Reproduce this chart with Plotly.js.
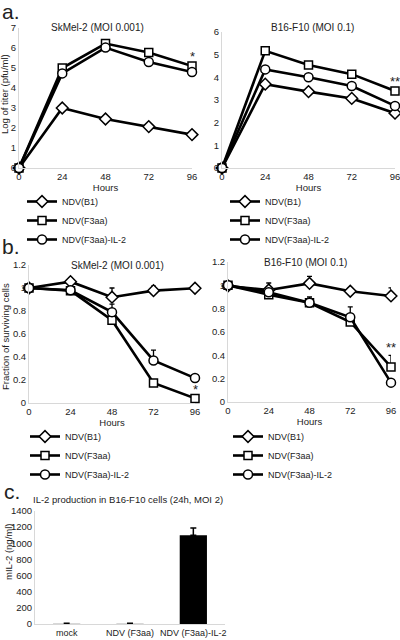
<!DOCTYPE html>
<html>
<head>
<meta charset="utf-8">
<script src="https://cdn.plot.ly/plotly-3.0.1.min.js"></script>
<style>html,body{margin:0;padding:0;background:#fff;}#chart{width:400px;height:640px;}</style>
</head>
<body>
<div id="chart"></div>
<script>
// ---- data ----
const hours = [0, 24, 48, 72, 96];
const seriesNames = ["NDV(B1)", "NDV(F3aa)", "NDV(F3aa)-IL-2"];

// a. virus titer (log pfu/ml)
const aSkB1   = [0, 3.00, 2.45, 2.07, 1.67];
const aSkF3aa = [0, 5.00, 6.22, 5.77, 5.10];
const aSkIL2  = [0, 4.73, 6.02, 5.30, 4.80];
const aB16B1   = [0, 3.70, 3.37, 3.07, 2.42];
const aB16F3aa = [0, 5.17, 4.54, 4.14, 3.40];
const aB16IL2  = [0, 4.35, 4.00, 3.62, 2.74];

// b. fraction of surviving cells (+ upper error)
const bSkB1   = [1.00, 1.055, 0.92, 0.977, 0.998];
const bSkB1Err = [0, 0.035, 0.08, 0.04, 0];
const bSkF3aa = [1.00, 0.977, 0.72, 0.174, 0.04];
const bSkF3aaErr = [0, 0, 0, 0, 0];
const bSkIL2  = [1.00, 0.98, 0.79, 0.37, 0.217];
const bSkIL2Err = [0, 0, 0.07, 0.09, 0];
const bB16B1   = [0.995, 0.96, 1.017, 0.949, 0.909];
const bB16B1Err = [0, 0.06, 0.06, 0.03, 0.07];
const bB16F3aa = [1.00, 0.92, 0.85, 0.686, 0.30];
const bB16F3aaErr = [0, 0, 0, 0, 0.10];
const bB16IL2  = [1.00, 0.94, 0.85, 0.726, 0.166];
const bB16IL2Err = [0, 0, 0.05, 0.09, 0];

// c. IL-2 production
const cCategories = ["mock", "NDV (F3aa)", "NDV (F3aa)-IL-2"];
const cValues = [2, 2, 1100];
const cErr = [6, 6, 90];

// ---- styling helpers ----
const FONT = "Liberation Sans, Arial, Helvetica, sans-serif";
const TXT = "#222";
const AXC = "#d8d8d8";
const symbols = ["diamond", "square", "circle"];
const sizes = [9, 8, 9];
const zeros = [0, 0, 0, 0, 0];

function lineTrace(y, idx, xa, ya, legend, err) {
  const t = {
    type: "scatter", mode: "lines+markers",
    x: hours, y: y, name: seriesNames[idx],
    xaxis: xa, yaxis: ya, legend: legend,
    cliponaxis: false,
    line: {color: "#000", width: 2.6},
    marker: {symbol: symbols[idx], size: sizes[idx], color: "#fff", line: {color: "#000", width: 1.5}}
  };
  if (err) {
    t.error_y = {type: "data", symmetric: false, array: err, arrayminus: zeros,
                 color: "#000", thickness: 1.3, width: 2.5};
  }
  return t;
}

const data = [
  lineTrace(aSkB1, 0, "x", "y", "legend"),
  lineTrace(aSkF3aa, 1, "x", "y", "legend"),
  lineTrace(aSkIL2, 2, "x", "y", "legend"),
  lineTrace(aB16B1, 0, "x2", "y2", "legend2"),
  lineTrace(aB16F3aa, 1, "x2", "y2", "legend2"),
  lineTrace(aB16IL2, 2, "x2", "y2", "legend2"),
  lineTrace(bSkB1, 0, "x3", "y3", "legend3", bSkB1Err),
  lineTrace(bSkF3aa, 1, "x3", "y3", "legend3", bSkF3aaErr),
  lineTrace(bSkIL2, 2, "x3", "y3", "legend3", bSkIL2Err),
  lineTrace(bB16B1, 0, "x4", "y4", "legend4", bB16B1Err),
  lineTrace(bB16F3aa, 1, "x4", "y4", "legend4", bB16F3aaErr),
  lineTrace(bB16IL2, 2, "x4", "y4", "legend4", bB16IL2Err),
  {
    type: "bar", x: cCategories, y: cValues, xaxis: "x5", yaxis: "y5",
    showlegend: false, width: 0.43,
    marker: {color: "#000"},
    error_y: {type: "data", symmetric: false, array: cErr, arrayminus: [0, 0, 0],
              color: "#000", thickness: 1.5, width: 3}
  }
];

const W = 400, H = 640;
const px = v => v / W;
const py = v => 1 - v / H;

function hoursAxis(x0, x1, anchor) {
  return {
    domain: [px(x0), px(x1)], anchor: anchor, range: [0, 96],
    tickvals: hours, ticks: "",
    showline: true, linecolor: AXC, linewidth: 1,
    showgrid: false, zeroline: false, automargin: false,
    ticklabeloverflow: "allow",
    tickfont: {size: 9.5, color: TXT},
    title: {text: "Hours", font: {size: 9.5, color: TXT}, standoff: 0}
  };
}
function valAxis(y0, y1, anchor, range, dtick) {
  return {
    domain: [py(y0), py(y1)], anchor: anchor, range: range, dtick: dtick,
    ticks: "",
    showline: true, linecolor: AXC, linewidth: 1,
    showgrid: false, zeroline: false, automargin: false,
    ticklabeloverflow: "allow",
    tickfont: {size: 9.5, color: TXT}
  };
}

function legendAt(x, y) {
  return {x: px(x), y: py(y), xanchor: "left", yanchor: "top",
          bgcolor: "rgba(0,0,0,0)", font: {size: 9, color: TXT},
          tracegroupgap: 0, itemwidth: 30};
}

function note(text, x, y, size, extra) {
  return Object.assign({text: text, xref: "paper", yref: "paper", x: px(x), y: py(y),
    xanchor: "center", yanchor: "middle", showarrow: false,
    font: {size: size, color: TXT}}, extra || {});
}

const layout = {
  width: W, height: H, autosize: false,
  margin: {l: 0, r: 0, t: 0, b: 0},
  paper_bgcolor: "#fff", plot_bgcolor: "rgba(0,0,0,0)",
  font: {family: FONT, color: TXT},
  showlegend: true,
  xaxis: hoursAxis(19, 192, "y"),
  yaxis: valAxis(168, 28, "x", [0, 7], 1),
  xaxis2: hoursAxis(222, 395, "y2"),
  yaxis2: valAxis(168, 32, "x2", [0, 6], 1),
  xaxis3: hoursAxis(29, 195, "y3"),
  yaxis3: valAxis(403, 265, "x3", [0, 1.2], 0.2),
  xaxis4: hoursAxis(228, 391, "y4"),
  yaxis4: valAxis(402, 262, "x4", [0, 1.2], 0.2),
  xaxis5: {
    domain: [px(35), px(225)], anchor: "y5", type: "category", range: [-0.5, 2.5],
    showline: true, linecolor: AXC, linewidth: 1, ticks: "", tickangle: 0,
    showgrid: false, zeroline: false, automargin: false,
    ticklabeloverflow: "allow",
    tickfont: {size: 9, color: TXT}
  },
  yaxis5: valAxis(624, 511, "x5", [0, 1400], 200),
  legend: legendAt(22, 187),
  legend2: legendAt(225, 187),
  legend3: legendAt(25, 422),
  legend4: legendAt(228, 422),
  annotations: [
    note("a.", 0, 11, 21, {xanchor: "left"}),
    note("b.", 0, 246, 21, {xanchor: "left"}),
    note("c.", 2, 491, 21, {xanchor: "left"}),
    note("SkMel-2 (MOI 0.001)", 97, 27, 10),
    note("B16-F10 (MOI 0.1)", 312, 27, 10),
    note("SkMel-2 (MOI 0.001)", 117, 265, 10),
    note("B16-F10 (MOI 0.1)", 305, 262, 10),
    note("IL-2 production in B16-F10 cells (24h, MOI 2)", 128, 499, 9.5),
    note("Log of titer (pfu/ml)", 5, 94, 9.5, {textangle: -90}),
    note("Fraction of surviving cells", 5, 337, 9.5, {textangle: -90}),
    note("mIL-2 (ng/ml)", 8, 552, 9.5, {textangle: -90}),
    {text: "*", xref: "x", yref: "y", x: 96, y: 5.55, showarrow: false, yanchor: "middle", font: {size: 13, color: TXT}},
    {text: "**", xref: "x2", yref: "y2", x: 96, y: 3.8, showarrow: false, yanchor: "middle", font: {size: 13, color: TXT}},
    {text: "*", xref: "x3", yref: "y3", x: 96, y: 0.115, showarrow: false, yanchor: "middle", font: {size: 13, color: TXT}},
    {text: "**", xref: "x4", yref: "y4", x: 96, y: 0.47, showarrow: false, yanchor: "middle", font: {size: 13, color: TXT}}
  ]
};

Plotly.newPlot("chart", data, layout, {staticPlot: true, displayModeBar: false});
</script>
</body>
</html>
